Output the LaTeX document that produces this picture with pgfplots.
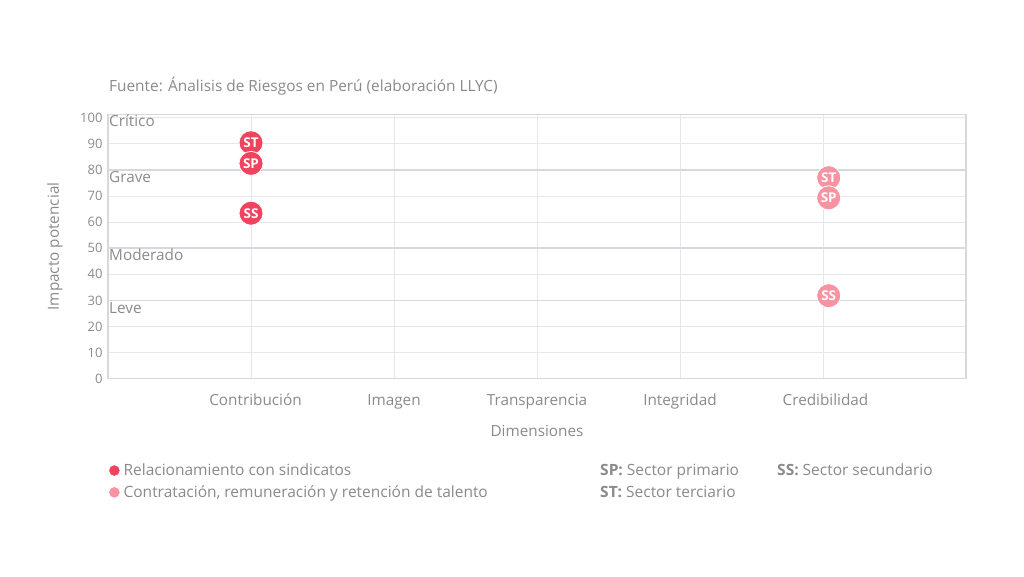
\documentclass[border=0pt]{standalone}
\usepackage{pgfplots}
\pgfplotsset{compat=1.18}
\usepackage{pgfplotstable}
\usepackage{fontspec}
\setmainfont{Open Sans}
\definecolor{dred}{HTML}{F0435E}
\definecolor{lpink}{HTML}{F992A2}
\definecolor{txt}{HTML}{8A8A8A}
\definecolor{grd}{HTML}{E4E7EB}
\definecolor{grdk}{HTML}{D5D9DE}

\pgfplotstableread{
x y lab
0 90.4 ST
0 82.5 SP
0 63.4 SS
}\tA
\pgfplotstableread{
x y lab
4.04 77.0 ST
4.04 69.3 SP
4.04 31.8 SS
}\tB

\begin{document}
\begin{tikzpicture}
\path (0pt,0pt) rectangle (1024pt,576pt);
\begin{axis}[
  at={(108pt,197.3pt)}, anchor=south west,
  scale only axis, width=858pt, height=264.4pt,
  xmin=-1, xmax=5, ymin=0, ymax=101.3,
  xtick={0,1,2,3,4},
  xticklabels={\hspace*{9pt}Contribución,Imagen,Transparencia,Integridad,\hspace*{5pt}Credibilidad},
  ytick={0,10,...,100},
  extra y ticks={30,50,80}, extra y tick labels={},
  extra y tick style={major grid style={grdk, line width=1.6pt}},
  grid=major, major grid style={grd, line width=0.8pt},
  axis line style={grdk, line width=1.5pt},
  tick style={draw=none},
  ticklabel style={text=txt},
  yticklabel style={font=\fontsize{13}{13}\selectfont, xshift=-2pt},
  xticklabel style={font=\fontsize{15.3}{15.3}\selectfont, text height=11pt, text depth=3.5pt, yshift=-12pt},
  /pgf/number format/assume math mode=true,
  xlabel={Dimensiones}, ylabel={Impacto potencial},
  every axis x label/.style={at={(axis cs:2,0)}, anchor=center, yshift=-52pt, text=txt, font=\fontsize{15.3}{15.3}\selectfont},
  every axis y label/.style={at={(rel axis cs:0,0.5)}, xshift=-53pt, rotate=90, anchor=center, text=txt, font=\fontsize{15.3}{15.3}\selectfont},
  clip=false,
  point meta=explicit symbolic,
  nodes near coords,
  every node near coord/.append style={anchor=center, text=white, font=\fontsize{13.5}{13.5}\selectfont\bfseries},
  legend cell align=left,
  legend image code/.code={\fill (5pt,0pt) circle (5pt); \path (12pt,0pt);},
  legend style={draw=none, fill=none, at={(rel axis cs:0,0)}, anchor=north west, yshift=-83pt, xshift=1pt,
    font=\fontsize{15.5}{15.5}\selectfont, text=txt, row sep=4.5pt, inner sep=0pt},
]
\addplot[only marks, mark=*, mark size=12pt, color=dred, mark options={fill=dred, draw=white, line width=0.8pt}]
  table[x=x, y=y, meta=lab] {\tA};
\addlegendentry{Relacionamiento con sindicatos}
\addplot[only marks, mark=*, mark size=12pt, color=lpink, mark options={fill=lpink, draw=white, line width=0.8pt}]
  table[x=x, y=y, meta=lab] {\tB};
\addlegendentry{Contratación, remuneración y retención de talento}
\node[anchor=north west, inner sep=1pt, text height=11.5pt, text depth=3.5pt, text=txt, font=\fontsize{15.3}{15.3}\selectfont] at (axis cs:-1,101.3) {Crítico};
\node[anchor=north west, inner sep=1pt, text height=11.5pt, text depth=3.5pt, text=txt, font=\fontsize{15.3}{15.3}\selectfont] at (axis cs:-1,80) {Grave};
\node[anchor=north west, inner sep=1pt, text height=11.5pt, text depth=3.5pt, text=txt, font=\fontsize{15.3}{15.3}\selectfont] at (axis cs:-1,50) {Moderado};
\node[anchor=north west, inner sep=1pt, text height=11.5pt, text depth=3.5pt, text=txt, font=\fontsize{15.3}{15.3}\selectfont] at (axis cs:-1,30) {Leve};
\end{axis}
\node[anchor=base west, inner sep=0pt, text=txt, font=\fontsize{15.4}{15.4}\selectfont] at (109pt,484.5pt) {Fuente: Ánalisis de Riesgos en Perú (elaboración LLYC)};
\node[anchor=base west, inner sep=0pt, text=txt, font=\fontsize{15.5}{15.5}\selectfont] at (600pt,101pt) {\textbf{SP:} Sector primario};
\node[anchor=base west, inner sep=0pt, text=txt, font=\fontsize{15.5}{15.5}\selectfont] at (777pt,101pt) {\textbf{SS:} Sector secundario};
\node[anchor=base west, inner sep=0pt, text=txt, font=\fontsize{15.5}{15.5}\selectfont] at (600pt,78.5pt) {\textbf{ST:} Sector terciario};
\end{tikzpicture}
\end{document}
